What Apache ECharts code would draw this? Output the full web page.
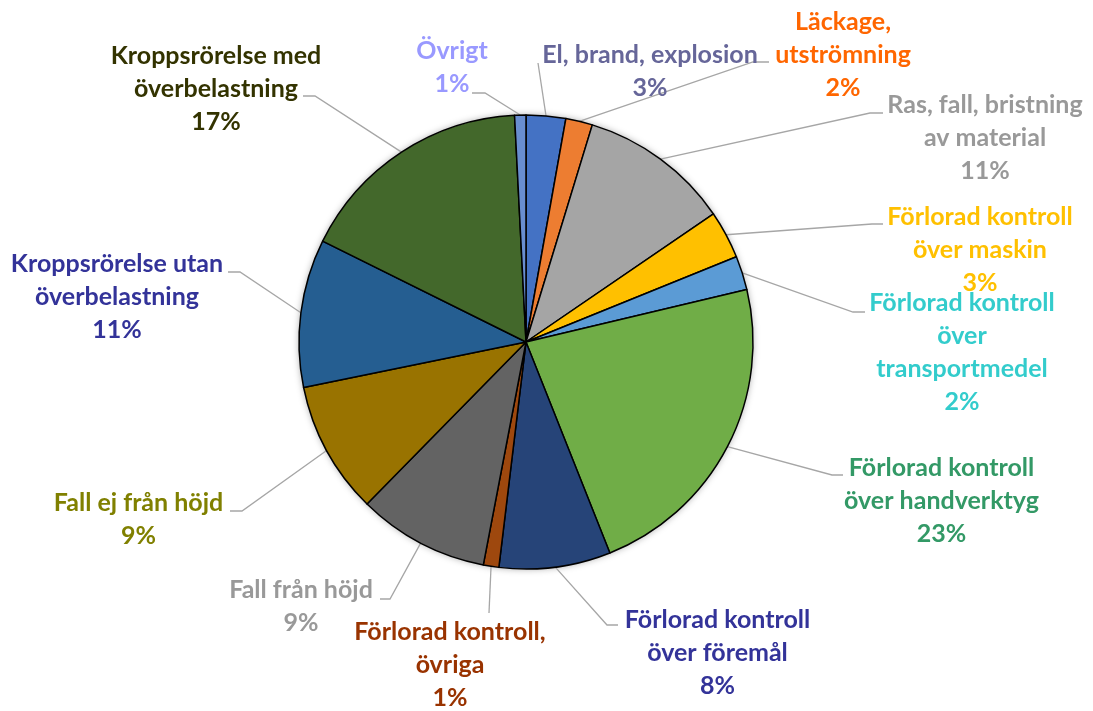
<!DOCTYPE html>
<html>
<head>
<meta charset="utf-8">
<script src="https://cdn.jsdelivr.net/npm/echarts@6/dist/echarts.min.js"></script>
<style>
  html, body { margin: 0; padding: 0; background: #fff; }
  #chart { width: 1093px; height: 711px; }
</style>
</head>
<body>
<div id="chart"></div>
<script>
// Olyckstyper — andel per typ, medurs från kl. 12
const names = [
  'El, brand, explosion',
  'Läckage,\nutströmning',
  'Ras, fall, bristning\nav material',
  'Förlorad kontroll\növer maskin',
  'Förlorad kontroll\növer\ntransportmedel',
  'Förlorad kontroll\növer handverktyg',
  'Förlorad kontroll\növer föremål',
  'Förlorad kontroll,\növriga',
  'Fall från höjd',
  'Fall ej från höjd',
  'Kroppsrörelse utan\növerbelastning',
  'Kroppsrörelse med\növerbelastning',
  'Övrigt',
]
// vinkelandelar
const values = [2.8, 1.9, 10.7, 3.4, 2.4, 22.6, 7.9, 1.1, 9.3, 9.4, 10.5, 16.8, 0.8]
// procenttal som står i etiketterna
const pcts = [3, 2, 11, 3, 2, 23, 8, 1, 9, 9, 11, 17, 1]

const sliceColors = ['#4472C4', '#ED7D31', '#A5A5A5', '#FFC000', '#5B9BD5', '#70AD47',
  '#264478', '#9E480E', '#636363', '#997300', '#255E91', '#43682B', '#698ED0']
const labelColors = ['#666699', '#FF6600', '#999999', '#FFC000', '#33CCCC', '#339966',
  '#333399', '#993300', '#999999', '#808000', '#333399', '#333300', '#9999FF']

// etikettplacering (mitt x, mitt y) och ledarlinjens knä/slut, som i Excel-originalet
const LABEL_AT = [
  [650, 71.5], [843, 55], [985, 138], [980, 249.5], [962, 352.5], [941.5, 500.5],
  [717.5, 652.5], [450, 664.5], [301, 606.5], [138.5, 519], [117, 297], [216, 88.5], [452, 67],
]
const LEADER = [
  [[538, 63]],
  [[753, 62], [769, 62]],
  [[870, 113], [883, 113]],
  [[872, 224], [883, 224]],
  [[853, 312], [865, 312]],
  [[832, 475], [843, 475]],
  [[607, 625], [618, 625]],
  [[489, 613]],
  [[390, 599], [380, 599]],
  [[242, 511], [230, 511]],
  [[240, 272], [228, 272]],
  [[315, 96], [303, 96]],
  [[485, 93], [472, 93]],
]

const CENTER = [526, 342]
const R = 227
const FONT = 'Lato, "Open Sans", sans-serif'

const chart = echarts.init(document.getElementById('chart'), null, { renderer: 'canvas' })
chart.setOption({
  backgroundColor: '#fff',
  animation: false,
  series: [
    {
      // skugga bakom cirkeln
      type: 'pie', silent: true, center: CENTER, radius: R, z: 1,
      label: { show: false }, labelLine: { show: false },
      data: [{ value: 1, itemStyle: { color: '#fff', shadowBlur: 7, shadowColor: 'rgba(0,0,0,0.35)' } }],
    },
    {
      type: 'pie', center: CENTER, radius: R, startAngle: 90, clockwise: true, z: 2,
      avoidLabelOverlap: false,
      itemStyle: { borderColor: '#000', borderWidth: 1.5 },
      label: {
        show: true, position: 'outside', fontFamily: FONT, fontWeight: 'bold',
        fontSize: 25, lineHeight: 33, align: 'center',
      },
      labelLine: { show: true, length: 10, length2: 10, lineStyle: { color: '#A6A6A6', width: 1.3 } },
      labelLayout: p => {
        const i = p.dataIndex
        const edge = p.labelLinePoints ? p.labelLinePoints[0] : null
        const out = { x: LABEL_AT[i][0], y: LABEL_AT[i][1], align: 'center', verticalAlign: 'middle' }
        if (edge) out.labelLinePoints = [edge].concat(LEADER[i])
        return out
      },
      data: names.map((n, i) => ({
        name: n, value: values[i],
        itemStyle: { color: sliceColors[i] },
        label: { color: labelColors[i], formatter: n + '\n' + pcts[i] + '%' },
      })),
    },
  ],
})
</script>
</body>
</html>
